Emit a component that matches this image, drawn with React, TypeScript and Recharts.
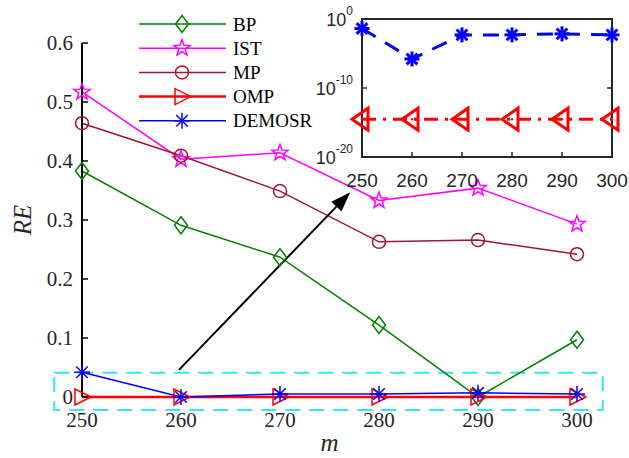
import React from 'react';
import { ComposedChart, LineChart, Line, XAxis, YAxis, ReferenceArea, ReferenceLine } from 'recharts';

// measurement counts on the x axis
const mValues = [250, 260, 270, 280, 290, 300];

// relative error per method
const bpRE = [0.383, 0.291, 0.237, 0.122, 0, 0.097];
const istRE = [0.517, 0.403, 0.414, 0.333, 0.354, 0.293];
const mpRE = [0.464, 0.409, 0.349, 0.263, 0.266, 0.242];
const ompRE = [3e-15, 3e-15, 3e-15, 3e-15, 3e-15, 3e-15];
const demosrRE = [0.042, 1.6e-6, 5e-3, 5e-3, 7e-3, 5e-3];

const reTicks = [0, 0.1, 0.2, 0.3, 0.4, 0.5, 0.6];
const logTicks = [1e-20, 1e-10, 1];

// zoomed region + arrow (data units of the main axes)
const zoomBox = { x1: 247.2, x2: 302.6, y1: -0.022, y2: 0.041 };
const arrowFrom = { x: 259.8, y: 0.046 };
const arrowTo = { x: 277.1, y: 0.347 };

const SERIF = '"Liberation Serif", "Times New Roman", serif';
const SANS = '"Liberation Sans", Arial, sans-serif';
const TICK_COLOR = '#262626';

const series = [
  { key: 'bp', name: 'BP', color: '#008000', marker: 'diamond', width: 1.5 },
  { key: 'ist', name: 'IST', color: '#ff00ff', marker: 'star', width: 1.5 },
  { key: 'mp', name: 'MP', color: '#a2142f', marker: 'circle', width: 1.5 },
  { key: 'omp', name: 'OMP', color: '#ff0000', marker: 'triRight', width: 2.5 },
  { key: 'demosr', name: 'DEMOSR', color: '#0000ff', marker: 'asterisk', width: 1.5 },
];

const mainData = mValues.map((m, i) => ({
  m,
  bp: bpRE[i],
  ist: istRE[i],
  mp: mpRE[i],
  omp: ompRE[i],
  demosr: demosrRE[i],
}));

const insetData = mValues.map((m, i) => ({ m, omp: ompRE[i], demosr: demosrRE[i] }));

function MarkerShape({ kind, cx, cy, color, sw = 1.5, big = false }: any) {
  if (cx == null || cy == null) return null;
  const common = { fill: 'none', stroke: color, strokeWidth: sw };
  if (kind === 'diamond') {
    const w = 6.5, h = 8.5;
    return <polygon {...common} points={`${cx},${cy - h} ${cx + w},${cy} ${cx},${cy + h} ${cx - w},${cy}`} />;
  }
  if (kind === 'circle') return <circle {...common} cx={cx} cy={cy} r={6.5} />;
  if (kind === 'star') {
    const pts = [];
    for (let k = 0; k < 10; k++) {
      const r = k % 2 === 0 ? 8.5 : 3.5;
      const a = -Math.PI / 2 + (k * Math.PI) / 5;
      pts.push(`${cx + r * Math.cos(a)},${cy + r * Math.sin(a)}`);
    }
    return <polygon {...common} points={pts.join(' ')} />;
  }
  if (kind === 'triRight') {
    return <polygon {...common} points={`${cx + 9},${cy} ${cx - 7},${cy - 8} ${cx - 7},${cy + 8}`} />;
  }
  if (kind === 'triLeft') {
    return (
      <g>
        <polygon {...common} points={`${cx - 10},${cy} ${cx + 6},${cy - 11} ${cx + 6},${cy + 11}`} />
        <circle cx={cx} cy={cy} r={1.2} fill={color} />
      </g>
    );
  }
  if (kind === 'asterisk') {
    const r = big ? 7.5 : 8;
    const d = r * 0.72;
    return (
      <g stroke={color} strokeWidth={sw}>
        <line x1={cx - r} x2={cx + r} y1={cy} y2={cy} />
        <line x1={cx} x2={cx} y1={cy - r} y2={cy + r} />
        <line x1={cx - d} x2={cx + d} y1={cy - d} y2={cy + d} />
        <line x1={cx - d} x2={cx + d} y1={cy + d} y2={cy - d} />
      </g>
    );
  }
  return null;
}

const MainXTick = ({ x, y, payload }: any) => (
  <text x={x} y={y} dy="0.35em" textAnchor="middle" style={{ fontFamily: SERIF, fontSize: 21 }} fill={TICK_COLOR}>
    {payload.value}
  </text>
);

const MainYTick = ({ x, y, payload }: any) => (
  <g>
    <line x1={x + 9} x2={x + 15} y1={y} y2={y} stroke="#000" strokeWidth={1.5} />
    <text x={x} y={y} dy="0.35em" textAnchor="end" style={{ fontFamily: SERIF, fontSize: 21 }} fill={TICK_COLOR}>
      {payload.value === 0 ? '0' : payload.value.toFixed(1)}
    </text>
  </g>
);

const InsetXTick = ({ x, y, payload }: any) => (
  <g>
    <line x1={x} x2={x} y1={y - 23} y2={y - 28} stroke="#262626" strokeWidth={1.5} />
    <text x={x} y={y} dy="0.35em" textAnchor="middle" style={{ fontFamily: SANS, fontSize: 19 }} fill={TICK_COLOR}>
      {payload.value}
    </text>
  </g>
);

const InsetYTick = ({ x, y, payload }: any) => (
  <g>
    <line x1={x + 9} x2={x + 14} y1={y} y2={y} stroke="#262626" strokeWidth={1.5} />
    <text x={x} y={y} textAnchor="end" style={{ fontFamily: SANS }} fill={TICK_COLOR}>
      <tspan fontSize={18} dy="0.4em">10</tspan>
      <tspan fontSize={12} dy="-0.9em">{Math.round(Math.log10(payload.value))}</tspan>
    </text>
  </g>
);

const InsetTopTick = ({ x, y }: any) => (
  <line x1={x} x2={x} y1={y} y2={y + 5} stroke="#262626" strokeWidth={1.5} />
);

const InsetRightTick = ({ x, y }: any) => (
  <line x1={x - 5} x2={x} y1={y} y2={y} stroke="#262626" strokeWidth={1.5} />
);

const ArrowShape = ({ x1, y1, x2, y2 }: any) => {
  if (x1 == null) return null;
  const dx = x2 - x1, dy = y2 - y1;
  const len = Math.sqrt(dx * dx + dy * dy);
  const ux = dx / len, uy = dy / len;
  const hl = 20, hw = 7;
  const bx = x2 - ux * hl, by = y2 - uy * hl;
  return (
    <g>
      <line x1={x1} y1={y1} x2={bx} y2={by} stroke="#000" strokeWidth={2} />
      <polygon
        points={`${x2},${y2} ${bx - uy * hw},${by + ux * hw} ${bx + uy * hw},${by - ux * hw}`}
        fill="#000"
      />
    </g>
  );
};

function LegendBox() {
  return (
    <svg width={260} height={140} style={{ position: 'absolute', left: 130, top: 0 }}>
      {series.map((s, i) => {
        const y = 24 + i * 24.2;
        return (
          <g key={s.key}>
            <line x1={9} x2={96} y1={y} y2={y} stroke={s.color} strokeWidth={s.width} />
            <MarkerShape kind={s.marker} cx={52} cy={y} color={s.color} />
            <text x={103} y={y} dy="0.35em" style={{ fontFamily: SERIF, fontSize: 19 }} fill="#000">
              {s.name}
            </text>
          </g>
        );
      })}
    </svg>
  );
}

export default function App() {
  return (
    <div style={{ position: 'absolute', left: 0, top: 0, width: 629, height: 458, background: '#fff' }}>
      <ComposedChart width={629} height={458} data={mainData} margin={{ top: 43, right: 52, bottom: 0, left: 0 }}>
        <XAxis
          dataKey="m"
          type="number"
          domain={[250, 300]}
          ticks={mValues}
          axisLine={false}
          tickLine={false}
          tickSize={0}
          tickMargin={23}
          height={61}
          tick={<MainXTick />}
          label={{
            value: 'm',
            position: 'insideBottom',
            offset: 7,
            style: { fontFamily: SERIF, fontStyle: 'italic', fontSize: 25, fill: TICK_COLOR },
          }}
        />
        <YAxis
          type="number"
          domain={[0, 0.6]}
          ticks={reTicks}
          width={82}
          axisLine={{ stroke: '#000', strokeWidth: 2 }}
          tickLine={false}
          tickSize={0}
          tickMargin={9}
          tick={<MainYTick />}
          label={{
            value: 'RE',
            angle: -90,
            position: 'insideLeft',
            offset: 22,
            style: { fontFamily: SERIF, fontStyle: 'italic', fontSize: 25, fill: TICK_COLOR, textAnchor: 'middle' },
          }}
        />
        {series.map((s) => (
          <Line
            key={s.key}
            dataKey={s.key}
            type="linear"
            stroke={s.color}
            strokeWidth={s.width}
            isAnimationActive={false}
            dot={(p: any) => (
              <MarkerShape key={`${s.key}-${p.index}`} kind={s.marker} cx={p.cx} cy={p.cy} color={s.color} />
            )}
            activeDot={false}
          />
        ))}
        <ReferenceArea
          x1={zoomBox.x1}
          x2={zoomBox.x2}
          y1={zoomBox.y1}
          y2={zoomBox.y2}
          ifOverflow="visible"
          fill="none"
          fillOpacity={0}
          stroke="#33e6f0"
          strokeWidth={2}
          strokeDasharray="15 9"
        />
        <ReferenceLine
          segment={[arrowFrom, arrowTo]}
          ifOverflow="visible"
          stroke="#000"
          shape={(p: any) => <ArrowShape {...p} />}
        />
      </ComposedChart>

      <LegendBox />

      <div style={{ position: 'absolute', left: 300, top: 0 }}>
        <LineChart width={329} height={200} data={insetData} margin={{ top: 19, right: 0, bottom: 0, left: 0 }}>
          <XAxis
            dataKey="m"
            type="number"
            domain={[250, 300]}
            ticks={mValues}
            axisLine={false}
            tickLine={false}
            tickSize={0}
            tickMargin={23}
            height={43}
            tick={<InsetXTick />}
          />
          <XAxis
            xAxisId="t"
            orientation="top"
            type="number"
            domain={[250, 300]}
            ticks={mValues}
            allowDataOverflow
            axisLine={false}
            tickLine={false}
            tickSize={0}
            tickMargin={0}
            height={0}
            tick={<InsetTopTick />}
          />
          <YAxis
            scale="log"
            type="number"
            domain={[1e-20, 1]}
            ticks={logTicks}
            width={62}
            axisLine={false}
            tickLine={false}
            tickSize={0}
            tickMargin={9}
            tick={<InsetYTick />}
          />
          <YAxis
            yAxisId="r"
            orientation="right"
            scale="log"
            type="number"
            domain={[1e-20, 1]}
            ticks={logTicks}
            allowDataOverflow
            width={17}
            axisLine={false}
            tickLine={false}
            tickSize={0}
            tickMargin={0}
            tick={<InsetRightTick />}
          />
          <ReferenceArea
            x1={250}
            x2={300}
            y1={1e-20}
            y2={1}
            ifOverflow="visible"
            fill="#fff"
            fillOpacity={1}
            stroke="#262626"
            strokeWidth={2}
          />
          <Line
            dataKey="omp"
            type="linear"
            stroke="#ff0000"
            strokeWidth={3}
            strokeDasharray="14 7 3 7"
            isAnimationActive={false}
            dot={(p: any) => (
              <MarkerShape key={`iomp-${p.index}`} kind="triLeft" cx={p.cx} cy={p.cy} color="#ff0000" sw={3} />
            )}
            activeDot={false}
          />
          <Line
            dataKey="demosr"
            type="linear"
            stroke="#0000ff"
            strokeWidth={3}
            strokeDasharray="16 11"
            isAnimationActive={false}
            dot={(p: any) => (
              <MarkerShape key={`idem-${p.index}`} kind="asterisk" cx={p.cx} cy={p.cy} color="#0000ff" sw={3} big />
            )}
            activeDot={false}
          />
        </LineChart>
      </div>
    </div>
  );
}
